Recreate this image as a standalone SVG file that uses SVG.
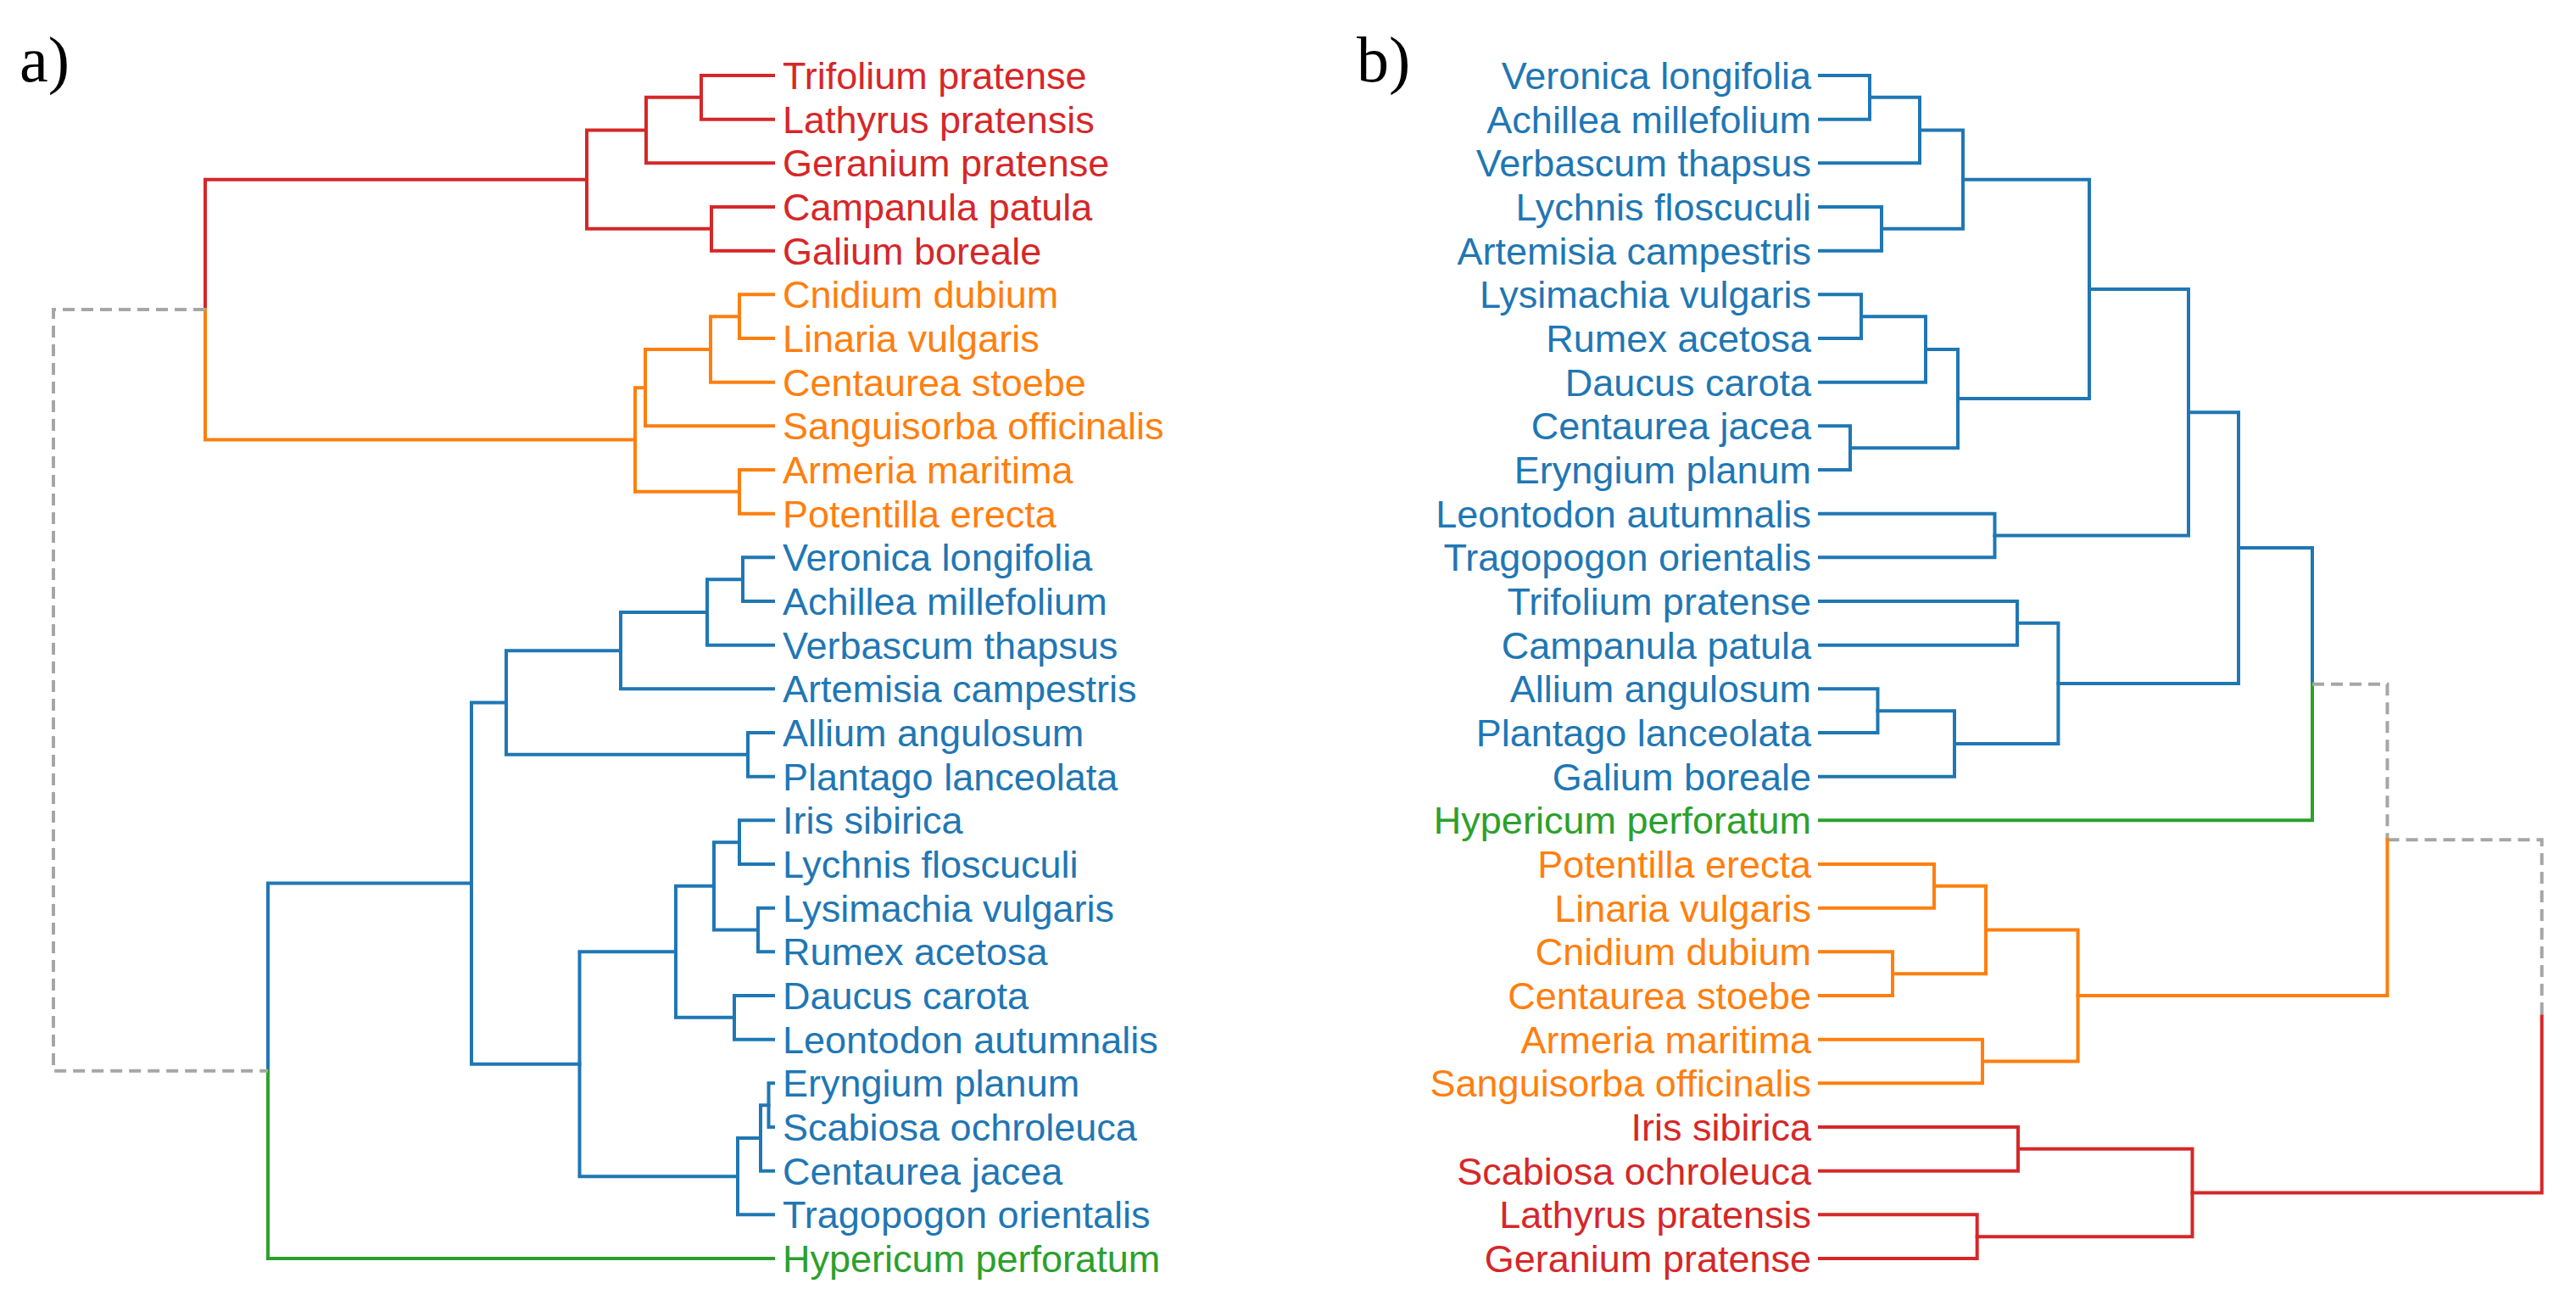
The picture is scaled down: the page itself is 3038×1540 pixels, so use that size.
<svg xmlns="http://www.w3.org/2000/svg" width="3038" height="1540" viewBox="0 0 3038 1540">
<style>
.l{fill:none;stroke-width:4;stroke-linejoin:miter;stroke-linecap:square}
.r{stroke:#d62728}.o{stroke:#ff7f0e}.b{stroke:#1f77b4}.g{stroke:#2ca02c}
.d{fill:none;stroke:#a6a6a6;stroke-width:4;stroke-dasharray:14 8}
text{font-family:"Liberation Sans",Arial,sans-serif;font-size:45px}
.tr{fill:#d62728}.to{fill:#ff7f0e}.tb{fill:#1f77b4}.tg{fill:#2ca02c}
.pl{font-family:"Liberation Serif","Times New Roman",serif;font-size:76px;fill:#000}
.e{text-anchor:end}
</style>
<rect width="3038" height="1540" fill="#fff"/>
<text class="pl" x="23" y="96">a)</text>
<text class="pl" x="1600" y="96">b)</text>
<g id="connectors">
<!-- panel a -->
<path class="l r" d="M912,89 H827 V140.7 H912"/>
<path class="l r" d="M827,114.8 H762 V192.3 H912"/>
<path class="l r" d="M912,244 H839 V295.7 H912"/>
<path class="l r" d="M762,153.6 H692 V269.8 H839"/>
<path class="l r" d="M692,211.7 H242 V365"/>
<path class="l o" d="M242,365 V518.4 H749"/>
<path class="l o" d="M912,347.3 H872 V399 H912"/>
<path class="l o" d="M872,373.2 H838 V450.7 H912"/>
<path class="l o" d="M838,412 H761 V502.3 H912"/>
<path class="l o" d="M912,554 H872 V605.7 H912"/>
<path class="l o" d="M761,457.2 H749 V579.8 H872"/>
<path class="l b" d="M912,657.3 H876 V709 H912"/>
<path class="l b" d="M876,683.2 H834 V760.7 H912"/>
<path class="l b" d="M834,722 H732 V812.3 H912"/>
<path class="l b" d="M912,864 H882 V915.7 H912"/>
<path class="l b" d="M732,767.2 H597 V889.8 H882"/>
<path class="l b" d="M912,967.3 H872 V1019 H912"/>
<path class="l b" d="M912,1070.7 H894 V1122.3 H912"/>
<path class="l b" d="M872,993.2 H842 V1096.5 H894"/>
<path class="l b" d="M912,1174 H866 V1225.7 H912"/>
<path class="l b" d="M842,1044.8 H797 V1199.8 H866"/>
<path class="l b" d="M912,1277.3 H906.5 V1329 H912"/>
<path class="l b" d="M906.5,1303.2 H897 V1380.7 H912"/>
<path class="l b" d="M897,1342 H870 V1432.3 H912"/>
<path class="l b" d="M797,1122.3 H683.5 V1387.2 H870"/>
<path class="l b" d="M597,828.5 H556 V1254.7 H683.5"/>
<path class="l b" d="M556,1041.6 H316 V1262.8"/>
<path class="l g" d="M316,1262.8 V1484 H912"/>
<path class="d" d="M242,365 H63 V1262.8 H316"/>
<!-- panel b -->
<path class="l b" d="M2146,89 H2205 V140.7 H2146"/>
<path class="l b" d="M2205,114.8 H2264 V192.3 H2146"/>
<path class="l b" d="M2146,244 H2219 V295.7 H2146"/>
<path class="l b" d="M2264,153.6 H2315 V269.8 H2219"/>
<path class="l b" d="M2146,347.3 H2195 V399 H2146"/>
<path class="l b" d="M2195,373.2 H2271 V450.7 H2146"/>
<path class="l b" d="M2146,502.3 H2182 V554 H2146"/>
<path class="l b" d="M2271,412 H2309 V528.2 H2182"/>
<path class="l b" d="M2315,211.7 H2464 V470.1 H2309"/>
<path class="l b" d="M2146,605.7 H2352.5 V657.3 H2146"/>
<path class="l b" d="M2464,340.9 H2581 V631.5 H2352.5"/>
<path class="l b" d="M2146,709 H2379 V760.7 H2146"/>
<path class="l b" d="M2146,812.3 H2214.5 V864 H2146"/>
<path class="l b" d="M2214.5,838.2 H2305 V915.7 H2146"/>
<path class="l b" d="M2379,734.8 H2427.4 V877 H2305"/>
<path class="l b" d="M2581,486.2 H2640 V805.9 H2427.4"/>
<path class="l b" d="M2640,646 H2727 V806.7"/>
<path class="l g" d="M2727,806.7 V967.3 H2146"/>
<path class="d" d="M2727,806.7 H2815.5 V990.3"/>
<path class="d" d="M2815.5,990.3 H2997.7 V1198.3"/>
<path class="l o" d="M2146,1019 H2281 V1070.7 H2146"/>
<path class="l o" d="M2146,1122.3 H2232 V1174 H2146"/>
<path class="l o" d="M2281,1044.8 H2342 V1148.2 H2232"/>
<path class="l o" d="M2146,1225.7 H2338 V1277.3 H2146"/>
<path class="l o" d="M2342,1096.5 H2450.6 V1251.5 H2338"/>
<path class="l o" d="M2450.6,1174 H2815.5 V990.3"/>
<path class="l r" d="M2146,1329 H2380 V1380.7 H2146"/>
<path class="l r" d="M2146,1432.3 H2331.7 V1484 H2146"/>
<path class="l r" d="M2380,1354.8 H2585.5 V1458.2 H2331.7"/>
<path class="l r" d="M2585.5,1406.5 H2997.7 V1198.3"/>
</g>
<!-- panel a leaves -->
<g id="a-trifolium-pratense"><text class="tr" x="923" y="105">Trifolium pratense</text></g>
<g id="a-lathyrus-pratensis"><text class="tr" x="923" y="156.7">Lathyrus pratensis</text></g>
<g id="a-geranium-pratense"><text class="tr" x="923" y="208.3">Geranium pratense</text></g>
<g id="a-campanula-patula"><text class="tr" x="923" y="260">Campanula patula</text></g>
<g id="a-galium-boreale"><text class="tr" x="923" y="311.7">Galium boreale</text></g>
<g id="a-cnidium-dubium"><text class="to" x="923" y="363.3">Cnidium dubium</text></g>
<g id="a-linaria-vulgaris"><text class="to" x="923" y="415">Linaria vulgaris</text></g>
<g id="a-centaurea-stoebe"><text class="to" x="923" y="466.7">Centaurea stoebe</text></g>
<g id="a-sanguisorba-officinalis"><text class="to" x="923" y="518.3">Sanguisorba officinalis</text></g>
<g id="a-armeria-maritima"><text class="to" x="923" y="570">Armeria maritima</text></g>
<g id="a-potentilla-erecta"><text class="to" x="923" y="621.7">Potentilla erecta</text></g>
<g id="a-veronica-longifolia"><text class="tb" x="923" y="673.3">Veronica longifolia</text></g>
<g id="a-achillea-millefolium"><text class="tb" x="923" y="725">Achillea millefolium</text></g>
<g id="a-verbascum-thapsus"><text class="tb" x="923" y="776.7">Verbascum thapsus</text></g>
<g id="a-artemisia-campestris"><text class="tb" x="923" y="828.3">Artemisia campestris</text></g>
<g id="a-allium-angulosum"><text class="tb" x="923" y="880">Allium angulosum</text></g>
<g id="a-plantago-lanceolata"><text class="tb" x="923" y="931.7">Plantago lanceolata</text></g>
<g id="a-iris-sibirica"><text class="tb" x="923" y="983.3">Iris sibirica</text></g>
<g id="a-lychnis-floscuculi"><text class="tb" x="923" y="1035">Lychnis floscuculi</text></g>
<g id="a-lysimachia-vulgaris"><text class="tb" x="923" y="1086.7">Lysimachia vulgaris</text></g>
<g id="a-rumex-acetosa"><text class="tb" x="923" y="1138.3">Rumex acetosa</text></g>
<g id="a-daucus-carota"><text class="tb" x="923" y="1190">Daucus carota</text></g>
<g id="a-leontodon-autumnalis"><text class="tb" x="923" y="1241.7">Leontodon autumnalis</text></g>
<g id="a-eryngium-planum"><text class="tb" x="923" y="1293.3">Eryngium planum</text></g>
<g id="a-scabiosa-ochroleuca"><text class="tb" x="923" y="1345">Scabiosa ochroleuca</text></g>
<g id="a-centaurea-jacea"><text class="tb" x="923" y="1396.7">Centaurea jacea</text></g>
<g id="a-tragopogon-orientalis"><text class="tb" x="923" y="1448.3">Tragopogon orientalis</text></g>
<g id="a-hypericum-perforatum"><text class="tg" x="923" y="1500">Hypericum perforatum</text></g>
<!-- panel b leaves -->
<g id="b-veronica-longifolia"><text class="tb e" x="2136" y="105">Veronica longifolia</text></g>
<g id="b-achillea-millefolium"><text class="tb e" x="2136" y="156.7">Achillea millefolium</text></g>
<g id="b-verbascum-thapsus"><text class="tb e" x="2136" y="208.3">Verbascum thapsus</text></g>
<g id="b-lychnis-floscuculi"><text class="tb e" x="2136" y="260">Lychnis floscuculi</text></g>
<g id="b-artemisia-campestris"><text class="tb e" x="2136" y="311.7">Artemisia campestris</text></g>
<g id="b-lysimachia-vulgaris"><text class="tb e" x="2136" y="363.3">Lysimachia vulgaris</text></g>
<g id="b-rumex-acetosa"><text class="tb e" x="2136" y="415">Rumex acetosa</text></g>
<g id="b-daucus-carota"><text class="tb e" x="2136" y="466.7">Daucus carota</text></g>
<g id="b-centaurea-jacea"><text class="tb e" x="2136" y="518.3">Centaurea jacea</text></g>
<g id="b-eryngium-planum"><text class="tb e" x="2136" y="570">Eryngium planum</text></g>
<g id="b-leontodon-autumnalis"><text class="tb e" x="2136" y="621.7">Leontodon autumnalis</text></g>
<g id="b-tragopogon-orientalis"><text class="tb e" x="2136" y="673.3">Tragopogon orientalis</text></g>
<g id="b-trifolium-pratense"><text class="tb e" x="2136" y="725">Trifolium pratense</text></g>
<g id="b-campanula-patula"><text class="tb e" x="2136" y="776.7">Campanula patula</text></g>
<g id="b-allium-angulosum"><text class="tb e" x="2136" y="828.3">Allium angulosum</text></g>
<g id="b-plantago-lanceolata"><text class="tb e" x="2136" y="880">Plantago lanceolata</text></g>
<g id="b-galium-boreale"><text class="tb e" x="2136" y="931.7">Galium boreale</text></g>
<g id="b-hypericum-perforatum"><text class="tg e" x="2136" y="983.3">Hypericum perforatum</text></g>
<g id="b-potentilla-erecta"><text class="to e" x="2136" y="1035">Potentilla erecta</text></g>
<g id="b-linaria-vulgaris"><text class="to e" x="2136" y="1086.7">Linaria vulgaris</text></g>
<g id="b-cnidium-dubium"><text class="to e" x="2136" y="1138.3">Cnidium dubium</text></g>
<g id="b-centaurea-stoebe"><text class="to e" x="2136" y="1190">Centaurea stoebe</text></g>
<g id="b-armeria-maritima"><text class="to e" x="2136" y="1241.7">Armeria maritima</text></g>
<g id="b-sanguisorba-officinalis"><text class="to e" x="2136" y="1293.3">Sanguisorba officinalis</text></g>
<g id="b-iris-sibirica"><text class="tr e" x="2136" y="1345">Iris sibirica</text></g>
<g id="b-scabiosa-ochroleuca"><text class="tr e" x="2136" y="1396.7">Scabiosa ochroleuca</text></g>
<g id="b-lathyrus-pratensis"><text class="tr e" x="2136" y="1448.3">Lathyrus pratensis</text></g>
<g id="b-geranium-pratense"><text class="tr e" x="2136" y="1500">Geranium pratense</text></g>
</svg>
